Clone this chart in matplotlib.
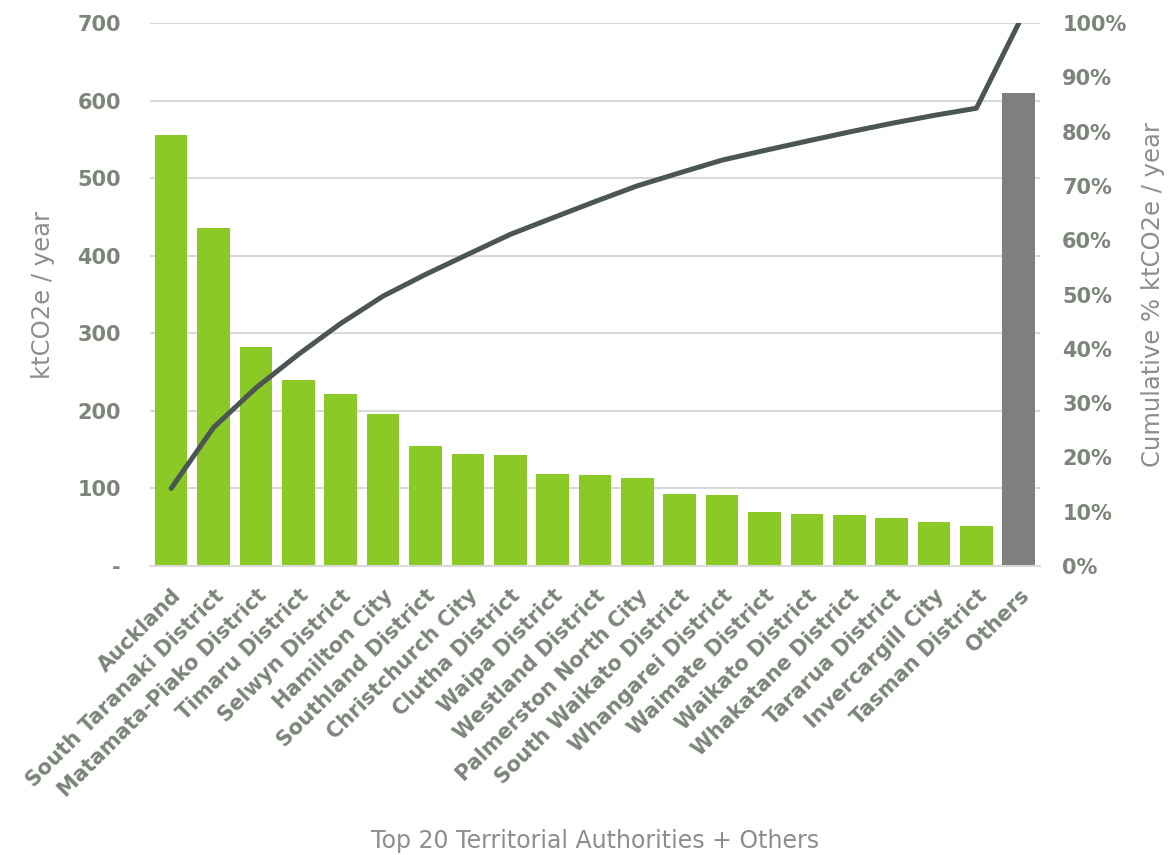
import numpy as np
import matplotlib.pyplot as plt
from matplotlib.ticker import FuncFormatter, PercentFormatter

plt.rcParams['font.family'] = ['DejaVu Sans']

# Emissions by territorial authority, ktCO2e / year
authorities = ["Auckland", "South Taranaki District", "Matamata-Piako District",
               "Timaru District", "Selwyn District", "Hamilton City",
               "Southland District", "Christchurch City", "Clutha District",
               "Waipa District", "Westland District", "Palmerston North City",
               "South Waikato District", "Whangarei District", "Waimate District",
               "Waikato District", "Whakatane District", "Tararua District",
               "Invercargill City", "Tasman District", "Others"]
emissions = [556, 436, 283, 240, 222, 196, 155, 144, 143, 118, 117, 113,
             93, 91, 69, 67, 65.5, 62, 57, 51, 610]

values = np.array(emissions)
cum_pct = np.cumsum(values) / values.sum() * 100
x = np.arange(len(values))

tick_col = "#7b8579"
label_col = "#8a8f88"
green = "#8bc926"
grey = "#7f7f7f"
line_col = "#4b5554"

fig = plt.figure(figsize=(11.68, 8.55), dpi=100)
ax = fig.add_axes([0.1284, 0.338, 0.762, 0.635])

colors = [green] * (len(values) - 1) + [grey]
ax.bar(x, values, width=0.77, color=colors, zorder=2)
ax.set_xlim(-0.5, len(values) - 0.5)
ax.set_ylim(0, 700)
ax.set_yticks(range(0, 701, 100))
ax.yaxis.set_major_formatter(FuncFormatter(lambda v, p: "-" if v == 0 else f"{int(v)}"))
ax.grid(axis="y", color="#d9d9d9", linewidth=1.5, zorder=0)
ax.set_axisbelow(True)
for s in ["top", "right", "left"]:
    ax.spines[s].set_visible(False)
ax.spines["bottom"].set_color("#d9d9d9")
ax.spines["bottom"].set_linewidth(1.5)
ax.tick_params(axis="both", length=0, colors=tick_col, labelsize=15, pad=21)
ax.set_xticks(x)
ax.set_xticklabels(authorities, rotation=45, ha="right", rotation_mode="anchor",
                   fontweight="bold", fontsize=15)
for t in ax.get_yticklabels():
    t.set_fontweight("bold")
ax.tick_params(axis="x", pad=14)
ax.set_ylabel("ktCO2e / year", color=label_col, fontsize=17.5)
ax.yaxis.set_label_coords(-0.107, 0.5)
ax.set_xlabel("Top 20 Territorial Authorities + Others", color=label_col, fontsize=17)
ax.xaxis.set_label_coords(0.5, -0.485)

ax2 = ax.twinx()
ax2.plot(x, cum_pct, color=line_col, linewidth=3.6, solid_capstyle="round", zorder=3)
ax2.set_ylim(0, 100)
ax2.set_yticks(range(0, 101, 10))
ax2.yaxis.set_major_formatter(PercentFormatter(decimals=0))
for s in ["top", "right", "left", "bottom"]:
    ax2.spines[s].set_visible(False)
ax2.tick_params(axis="y", length=0, colors=tick_col, labelsize=15, pad=16)
for t in ax2.get_yticklabels():
    t.set_fontweight("bold")
ax2.set_ylabel("Cumulative % ktCO2e / year", color=label_col, fontsize=17.5)
ax2.yaxis.set_label_coords(1.1135, 0.5)

fig.savefig("out.png", dpi=100)
